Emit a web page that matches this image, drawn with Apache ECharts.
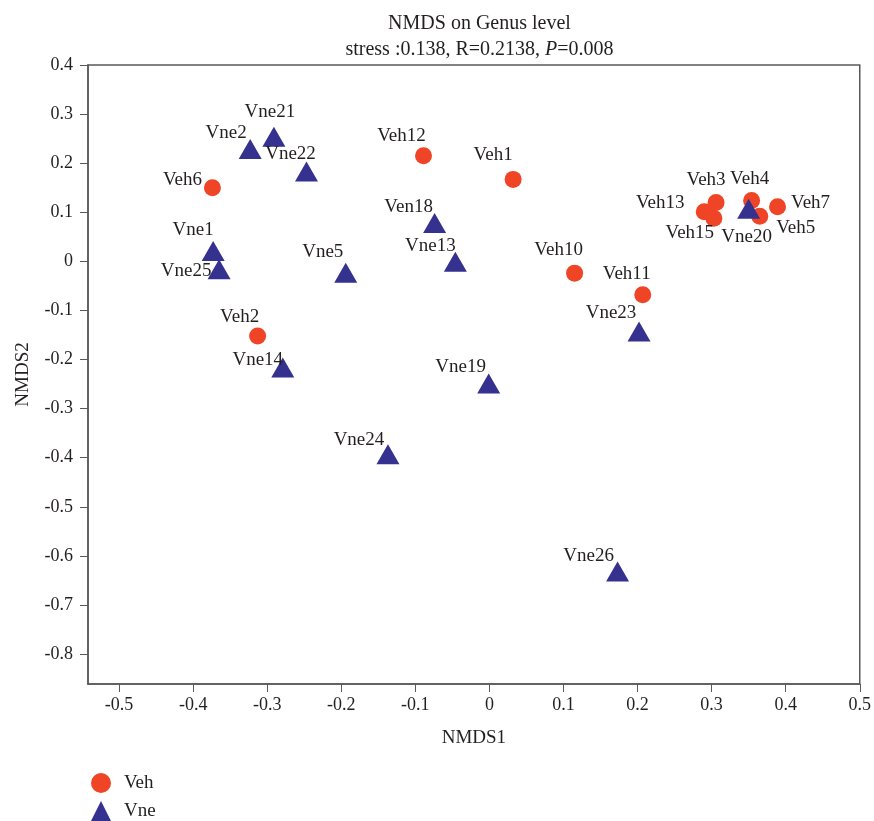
<!DOCTYPE html>
<html><head><meta charset="utf-8">
<script src="https://cdn.jsdelivr.net/npm/echarts@6/dist/echarts.min.js"></script>
<style>html,body{margin:0;padding:0;background:#fff}#c{width:874px;height:821px}</style>
</head><body><div id="c"></div>
<script>
const vehNames = ['Veh1','Veh2','Veh3','Veh4','Veh5','Veh6','Veh7','Veh10','Veh11','Veh12','Veh13','Veh15'];
const vehX = [0.032,-0.313,0.306,0.354,0.365,-0.374,0.389,0.115,0.207,-0.089,0.290,0.303];
const vehY = [0.167,-0.152,0.120,0.124,0.092,0.150,0.111,-0.024,-0.068,0.215,0.101,0.088];

const vneNames = ['Vne1','Vne2','Vne5','Vne13','Vne14','Ven18','Vne19','Vne20','Vne21','Vne22','Vne23','Vne24','Vne25','Vne26'];
const vneX = [-0.373,-0.323,-0.194,-0.046,-0.279,-0.074,-0.001,0.350,-0.291,-0.247,0.202,-0.137,-0.365,0.173];
const vneY = [0.021,0.229,-0.023,-0.001,-0.216,0.078,-0.249,0.107,0.254,0.183,-0.143,-0.393,-0.016,-0.632];

const xTicks = [-0.5,-0.4,-0.3,-0.2,-0.1,0,0.1,0.2,0.3,0.4,0.5];
const yTicks = [-0.8,-0.7,-0.6,-0.5,-0.4,-0.3,-0.2,-0.1,0,0.1,0.2,0.3,0.4];

// label placement (offset of label centre from the marker centre, px)
const labelOffsets = {
  Veh1:[-20,-24], Veh2:[-18,-19], Veh3:[-10,-22], Veh4:[-2,-21], Veh5:[36,12], Veh6:[-30,-8],
  Veh7:[33,-4], Veh10:[-16,-23], Veh11:[-16,-21], Veh12:[-22,-20], Veh13:[-44,-9], Veh15:[-24,15],
  Vne1:[-20,-21], Vne2:[-24,-16], Vne5:[-23,-21], Vne13:[-25,-16], Vne14:[-25,-7], Ven18:[-26,-16],
  Vne19:[-28,-17], Vne20:[-2,28], Vne21:[-4,-25], Vne22:[-16,-18], Vne23:[-28,-19], Vne24:[-29,-14],
  Vne25:[-33,2], Vne26:[-29,-16]
};

const FONT = '"Liberation Serif","DejaVu Serif",serif';
const TXT = '#231f20';
const RED = '#ef4526';
const BLUE = '#35318f';

function build(names, xs, ys) {
  return names.map((n, i) => ({
    name: n,
    value: [xs[i], ys[i]],
    label: { offset: labelOffsets[n] || [0, -20] }
  }));
}
const fmt = v => String(+(+v).toFixed(1));

const labelCommon = {
  show: true, formatter: '{b}', position: 'inside', align: 'center', verticalAlign: 'middle',
  color: TXT, fontFamily: FONT, fontSize: 19
};

const chart = echarts.init(document.getElementById('c'), null, { renderer: 'canvas' });
chart.setOption({
  animation: false,
  backgroundColor: '#fff',
  title: {
    text: 'NMDS on Genus level',
    subtext: 'stress :0.138, R=0.2138, {i|P}=0.008',
    left: 474.5, textAlign: 'center', top: 9, itemGap: 6,
    textStyle: { fontFamily: FONT, fontSize: 20, fontWeight: 'normal', color: TXT },
    subtextStyle: { fontFamily: FONT, fontSize: 20, color: TXT,
      rich: { i: { fontFamily: FONT, fontSize: 20, fontStyle: 'italic', color: TXT } } }
  },
  grid: { left: 88, right: 13, top: 65, bottom: 137, show: true, borderColor: '#58595b', borderWidth: 1.5 },
  legend: {
    orient: 'vertical', left: 91, top: 773, padding: 0, itemWidth: 20, itemHeight: 20, itemGap: 8,
    textStyle: { fontFamily: FONT, fontSize: 19, color: TXT, padding: [0, 0, 0, 8] },
    data: [{ name: 'Veh', icon: 'circle' }, { name: 'Vne', icon: 'triangle' }]
  },
  xAxis: {
    type: 'value', min: -0.542, max: 0.5,
    name: 'NMDS1', nameLocation: 'middle', nameGap: 45,
    nameTextStyle: { fontFamily: FONT, fontSize: 19, color: TXT },
    axisLine: { show: true, onZero: false, lineStyle: { color: '#58595b', width: 1.5 } },
    axisTick: { show: true, inside: false, length: 8, customValues: xTicks, lineStyle: { color: '#58595b' } },
    axisLabel: { customValues: xTicks, formatter: fmt, fontFamily: FONT, fontSize: 18, color: TXT, margin: 12 },
    splitLine: { show: false }
  },
  yAxis: {
    type: 'value', min: -0.861, max: 0.4,
    name: 'NMDS2', nameLocation: 'middle', nameGap: 55,
    nameTextStyle: { fontFamily: FONT, fontSize: 19, color: TXT },
    axisLine: { show: true, onZero: false, lineStyle: { color: '#58595b', width: 1.5 } },
    axisTick: { show: true, inside: false, length: 8, customValues: yTicks, lineStyle: { color: '#58595b' } },
    axisLabel: { customValues: yTicks, formatter: fmt, fontFamily: FONT, fontSize: 18, color: TXT, margin: 15 },
    splitLine: { show: false }
  },
  series: [
    {
      name: 'Veh', type: 'scatter', symbol: 'circle', symbolSize: 17,
      itemStyle: { color: RED, opacity: 1 },
      label: labelCommon,
      data: build(vehNames, vehX, vehY)
    },
    {
      name: 'Vne', type: 'scatter', symbol: 'triangle', symbolSize: [23, 20],
      itemStyle: { color: BLUE, opacity: 1 },
      label: labelCommon,
      data: build(vneNames, vneX, vneY)
    }
  ]
});
</script>
</body></html>
